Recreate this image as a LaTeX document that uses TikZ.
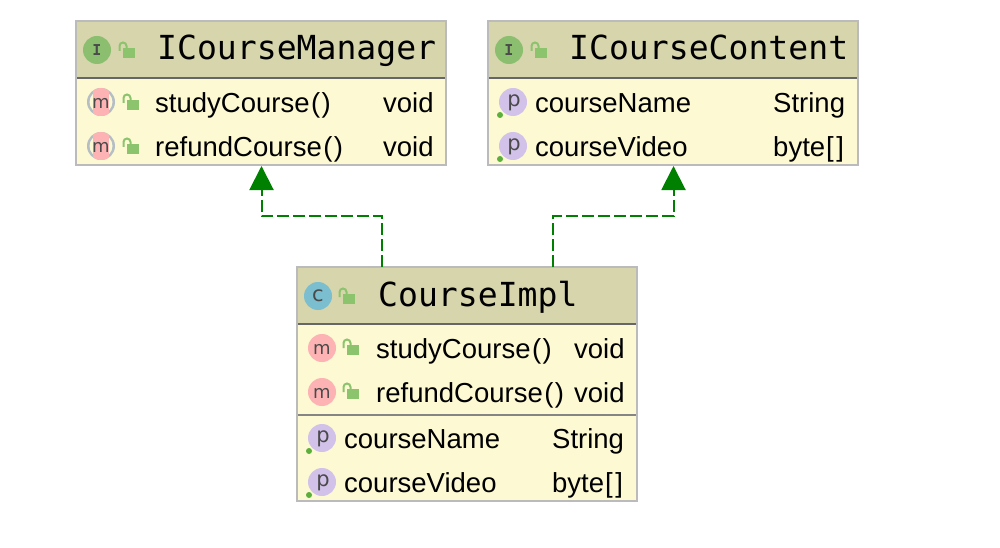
\documentclass[tikz,border=0pt]{standalone}
\usepackage{fontspec}
\setmainfont{Liberation Sans}
\newfontfamily\titlefont{DejaVu Sans Mono}
\newfontfamily\glyphfont{DejaVu Sans}
\newfontfamily\monoglyph{DejaVu Sans Mono}
\usetikzlibrary{arrows.meta}
\definecolor{hdr}{HTML}{D6D5AC}
\definecolor{bdy}{HTML}{FCF9D3}
\definecolor{edge}{HTML}{BBBBBB}
\definecolor{sepc}{HTML}{666666}
\definecolor{lockc}{HTML}{8CC46E}
\definecolor{igreen}{HTML}{8BBF6F}
\definecolor{ccyan}{HTML}{7ABECF}
\definecolor{mpink}{HTML}{FDB3B3}
\definecolor{ppurple}{HTML}{D2C2EA}
\definecolor{ring}{HTML}{B4BEC4}
\definecolor{dotg}{HTML}{5DAF3C}
\definecolor{glyphc}{HTML}{4A4A4A}
\definecolor{depc}{HTML}{008000}
\newcommand{\callname}[1]{#1\kern1.5pt(\kern1.5pt)}
\newcommand{\bytearr}{byte\kern1pt[\kern2.5pt]}
\tikzset{
  x=1pt,y=-1pt,
  boxbody/.style={anchor=north west,inner sep=0pt,outer sep=0pt,fill=bdy},
  boxhead/.style={anchor=north west,inner sep=0pt,outer sep=0pt,fill=hdr},
  boxedge/.style={draw=edge,line width=2.2pt},
  sepline/.style={draw=sepc,line width=1.8pt},
  septhin/.style={draw=sepc!80,line width=1.6pt},
  titletext/.style={anchor=base west,inner sep=0pt,font=\titlefont\fontsize{33.1}{36}\selectfont,text=black},
  rowtext/.style={anchor=base west,inner sep=0pt,font=\fontsize{27.5}{30}\selectfont,text=black},
  iconbase/.style={circle,inner sep=0pt,minimum size=28pt,text=glyphc},
  iconi/.style={iconbase,fill=igreen,font=\monoglyph\bfseries\fontsize{15}{16}\selectfont},
  iconc/.style={iconbase,fill=ccyan,font=\glyphfont\fontsize{21}{22}\selectfont},
  iconm/.style={iconbase,fill=mpink},
  iconp/.style={iconbase,fill=ppurple},
  mglyph/.style={text=glyphc,inner sep=0pt,font=\glyphfont\fontsize{18}{20}\selectfont},
  pglyph/.style={text=glyphc,inner sep=0pt,font=\glyphfont\fontsize{21}{22}\selectfont},
  icondot/.style={circle,inner sep=0pt,minimum size=6pt,fill=dotg},
  dep/.style={draw=depc,line width=2pt,dash pattern=on 12pt off 4pt,-{Triangle[length=24pt,width=24pt,fill=depc]}},
  lockicon/.pic={
    \fill[lockc] (-4,-2) rectangle (8,8);
    \draw[lockc,line width=2pt] (-7.5,1) -- (-7.5,-4) arc[start angle=180,end angle=0,x radius=3.5,y radius=-3.5] -- (-0.5,-2);
  }
}
\newcommand{\overrideicon}[2]{%
  \fill[ring] (#1,#2) circle[radius=14];
  \fill[bdy] (#1,#2) circle[radius=11.5];
  \begin{scope}
    \clip (#1,#2) circle[radius=14];
    \fill[mpink] (#1-8.3,#2-14) rectangle (#1+8.3,#2+14);
  \end{scope}
}
\begin{document}
\begin{tikzpicture}
\useasboundingbox[fill=white] (0,0) rectangle (1000,548);

% ICourseManager
\node[boxbody,minimum width=370pt,minimum height=144pt] (mgr) at (76,21) {};
\node[boxhead,minimum width=370pt,minimum height=57pt] (mgrhead) at (76,21) {};
\draw[sepline] (mgrhead.south west) -- (mgrhead.south east);
\draw[boxedge] (mgr.north west) rectangle (mgr.south east);
\node[iconi] (mgricon) at (97,50) {I};
\pic at (127,50) {lockicon};
\node[titletext] (mgrtitle) at (157,60) {ICourseManager};
\overrideicon{101}{102}
\node[mglyph] (mgrm1) at (101,103) {m};
\pic at (131,102) {lockicon};
\node[rowtext] (mgrn1) at (155,113) {\callname{studyCourse}};
\node[rowtext] (mgrt1) at (383,113) {void};
\overrideicon{101}{146}
\node[mglyph] (mgrm2) at (101,147) {m};
\pic at (131,146) {lockicon};
\node[rowtext] (mgrn2) at (155,157) {\callname{refundCourse}};
\node[rowtext] (mgrt2) at (383,157) {void};

% ICourseContent
\node[boxbody,minimum width=370pt,minimum height=144pt] (cnt) at (488,21) {};
\node[boxhead,minimum width=370pt,minimum height=57pt] (cnthead) at (488,21) {};
\draw[sepline] (cnthead.south west) -- (cnthead.south east);
\draw[boxedge] (cnt.north west) rectangle (cnt.south east);
\node[iconi] (cnticon) at (509,50) {I};
\pic at (539,50) {lockicon};
\node[titletext] (cnttitle) at (569,60) {ICourseContent};
\node[iconp] (cntp1) at (513,102) {};
\node[pglyph] (cntg1) at (514,103) {p};
\node[icondot] (cntd1) at (500,115) {};
\node[rowtext] (cntn1) at (535,113) {courseName};
\node[rowtext] (cntt1) at (773,113) {String};
\node[iconp] (cntp2) at (513,146) {};
\node[pglyph] (cntg2) at (514,147) {p};
\node[icondot] (cntd2) at (500,159) {};
\node[rowtext] (cntn2) at (535,157) {courseVideo};
\node[rowtext] (cntt2) at (773,157) {\bytearr};

% CourseImpl
\node[boxbody,minimum width=340pt,minimum height=234pt] (impl) at (297,267) {};
\node[boxhead,minimum width=340pt,minimum height=57pt] (implhead) at (297,267) {};
\draw[sepline] (implhead.south west) -- (implhead.south east);
\coordinate (implsepl) at (297,415);
\coordinate (implsepr) at (637,415);
\draw[septhin] (implsepl) -- (implsepr);
\draw[boxedge] (impl.north west) rectangle (impl.south east);
\node[iconc] (implicon) at (318,296) {c};
\pic at (347,296) {lockicon};
\node[titletext] (impltitle) at (378,306) {CourseImpl};
\node[iconm] (implm1) at (322,348) {};
\node[mglyph] (implg1) at (322,349) {m};
\pic at (351,347) {lockicon};
\node[rowtext] (impln1) at (376,358) {\callname{studyCourse}};
\node[rowtext] (implt1) at (574,358) {void};
\node[iconm] (implm2) at (322,392) {};
\node[mglyph] (implg2) at (322,393) {m};
\pic at (351,391) {lockicon};
\node[rowtext] (impln2) at (376,402) {\callname{refundCourse}};
\node[rowtext] (implt2) at (574,402) {void};
\node[iconp] (implp1) at (322,438) {};
\node[pglyph] (implg3) at (323,439) {p};
\node[icondot] (impld1) at (309,451) {};
\node[rowtext] (impln3) at (344,448) {courseName};
\node[rowtext] (implt3) at (552,448) {String};
\node[iconp] (implp2) at (322,482) {};
\node[pglyph] (implg4) at (323,483) {p};
\node[icondot] (impld2) at (309,495) {};
\node[rowtext] (impln4) at (344,492) {courseVideo};
\node[rowtext] (implt4) at (552,492) {\bytearr};

% Dependencies
\draw[dep] ([xshift=85pt]impl.north west) -- ++(0,-51) -| ([xshift=185.5pt,yshift=-1pt]mgr.south west);
\draw[dep] ([xshift=256pt]impl.north west) -- ++(0,-51) -| ([xshift=185.5pt,yshift=-1pt]cnt.south west);
\end{tikzpicture}
\end{document}
